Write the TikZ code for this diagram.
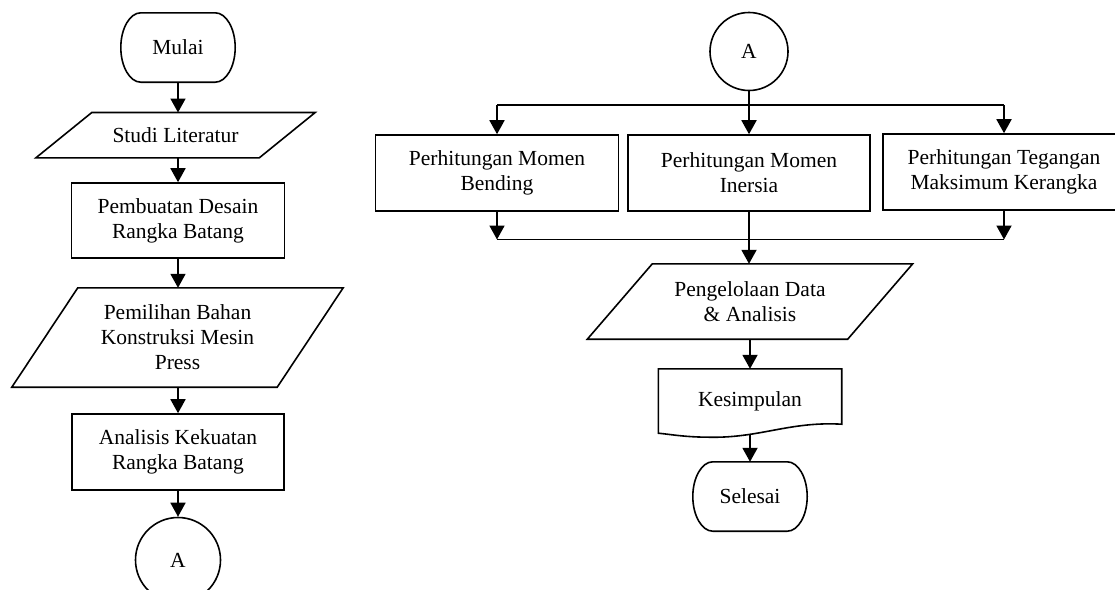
\documentclass[tikz,border=0pt]{standalone}
\usepackage{fontspec}
\setmainfont{Liberation Serif}
\usetikzlibrary{arrows.meta,calc}
\tikzset{
  txt/.style={font=\fontsize{21.5}{25}\selectfont, align=center, inner sep=0pt},
  outline/.style={line width=1.6pt, line join=miter},
  box/.style={txt, draw, outline},
  conn/.style={line width=1.8pt},
  arr/.style={conn, -{Triangle[length=14pt,width=15pt]}},
}
\newcommand\drawterm[1]{%
  \draw[outline] ($(#1.north west)+(20,0)$) -- ($(#1.north east)+(-20,0)$)
    .. controls ($(#1.north east)+(-9,0)$) and ($(#1.east)+(0,-19)$) .. (#1.east)
    .. controls ($(#1.east)+(0,19)$) and ($(#1.south east)+(-9,0)$) .. ($(#1.south east)+(-20,0)$)
    -- ($(#1.south west)+(20,0)$)
    .. controls ($(#1.south west)+(9,0)$) and ($(#1.west)+(0,19)$) .. (#1.west)
    .. controls ($(#1.west)+(0,-19)$) and ($(#1.north west)+(9,0)$) .. ($(#1.north west)+(20,0)$)
    -- cycle;}
\newcommand\drawpara[2]{%
  \draw[outline] ($(#1.north west)+(#2,0)$) -- (#1.north east)
    -- ($(#1.south east)+(-#2,0)$) -- (#1.south west) -- cycle;}
\begin{document}
\begin{tikzpicture}[x=1pt,y=-1pt]
\useasboundingbox (0,0) rectangle (1115,589);
\clip (0,0) rectangle (1115,589);

% ---------------- left column ----------------
\node[txt, minimum width=114pt, minimum height=69pt] (mulai) at (178,47.5) {Mulai};
\drawterm{mulai}
\node[txt, minimum width=279pt, minimum height=45pt] (studi) at (175.5,135.2) {Studi Literatur};
\drawpara{studi}{56}
\node[box, minimum width=213pt, minimum height=75pt] (desain) at (178,220.5) {Pembuatan Desain\\Rangka Batang};
\node[txt, minimum width=331pt, minimum height=99pt] (bahan) at (177.5,337.5) {Pemilihan Bahan\\Konstruksi Mesin\\Press};
\drawpara{bahan}{66}
\node[box, minimum width=212pt, minimum height=76pt] (analisis) at (178,452) {Analisis Kekuatan\\Rangka Batang};
\node[box, circle, minimum size=85pt] (a1) at (178,560) {A};

\draw[arr] (mulai.south) -- (mulai.south |- studi.north);
\draw[arr] (studi.south -| desain.north) -- (desain.north);
\draw[arr] (desain.south) -- (desain.south |- bahan.north);
\draw[arr] (bahan.south -| analisis.north) -- (analisis.north);
\draw[arr] (analisis.south) -- (a1.north);

% ---------------- right part ----------------
\node[box, circle, minimum size=78pt] (a2) at (749,51.5) {A};
\coordinate (split) at (749,105);
\coordinate (join) at (749,239.5);
\node[box, minimum width=243pt, minimum height=76pt] (box1) at (497,173) {Perhitungan Momen\\Bending};
\node[box, minimum width=242pt, minimum height=76pt] (box2) at (749,173) {Perhitungan Momen\\Inersia};
\node[box, minimum width=242pt, minimum height=76pt] (box3) at (1004,172) {Perhitungan Tegangan\\Maksimum Kerangka};
\node[txt, minimum width=325pt, minimum height=75pt] (proses) at (750,301.5) {Pengelolaan Data\\\& Analisis};
\drawpara{proses}{65}
\node[txt, minimum width=183pt, minimum height=64pt] (kesim) at (750,401) {Kesimpulan};
\draw[outline] (kesim.south west) -- (kesim.north west) -- (kesim.north east)
  -- ($(kesim.south east)+(0,-9)$)
  .. controls ($(kesim.south east)+(-52,-12)$) and ($(kesim.south east)+(-82,5)$) .. ($(kesim.south east)+(-132,4)$)
  .. controls ($(kesim.south east)+(-157,4)$) and ($(kesim.south east)+(-172,1)$) .. (kesim.south west) -- cycle;
\node[txt, minimum width=114pt, minimum height=69pt] (selesai) at (750,496.5) {Selesai};
\drawterm{selesai}

\draw[arr] (a2.south) -- (box2.north);
\draw[conn] (split -| box1.north) -- (split -| box3.north);
\draw[arr] (split -| box1.north) -- (box1.north);
\draw[arr] (split -| box3.north) -- (box3.north);
\draw[arr] (box1.south) -- (box1.south |- join);
\draw[arr] (box3.south) -- (box3.south |- join);
\draw[conn] (join -| box1.south) -- (join -| box3.south);
\draw[arr] (box2.south) -- (box2.south |- proses.north);
\draw[arr] (proses.south) -- (kesim.north);
\draw[arr] ($(kesim.south)+(0,1)$) -- (selesai.north);
\end{tikzpicture}
\end{document}
